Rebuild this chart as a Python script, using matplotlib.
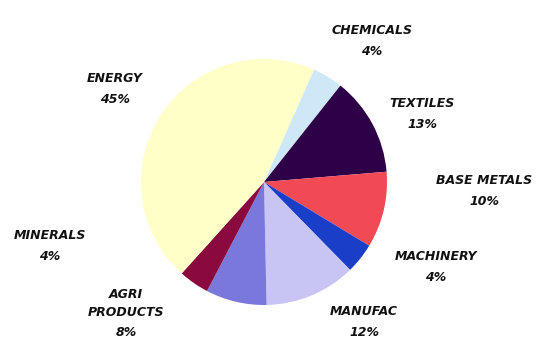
import matplotlib
matplotlib.use("Agg")
import matplotlib.pyplot as plt

categories = ["CHEMICALS", "TEXTILES", "BASE METALS", "MACHINERY",
              "MANUFAC", "AGRI\nPRODUCTS", "MINERALS", "ENERGY"]
values = [4, 13, 10, 4, 12, 8, 4, 45]
colors = ["#cfe8f8", "#2e0048", "#f24a55", "#1a3ec8",
          "#c8c4f4", "#7b78dc", "#8a0a40", "#ffffc8"]
# label anchor positions in pixel space (x, y from top)
label_pos = [(372, 41), (422, 114), (484, 191), (436, 267),
             (364, 322), (126, 313), (50, 246), (115, 89)]

W, H = 544, 343
fig = plt.figure(figsize=(W / 100, H / 100), dpi=100)
ax = fig.add_axes([0, 0, 1, 1])

ax.pie(values, colors=colors, startangle=66, counterclock=False,
       center=(264, H - 182), radius=123, frame=True,
       wedgeprops=dict(linewidth=0))
ax.set_xlim(0, W)
ax.set_ylim(0, H)
ax.set_aspect("equal")
ax.axis("off")

for cat, v, (x, y) in zip(categories, values, label_pos):
    lines = cat.count("\n") + 2
    ax.text(x, H - y, f"{cat}\n{v}%", ha="center", va="center",
            fontsize=9, fontweight="heavy", fontstyle="italic",
            family="DejaVu Sans", linespacing=1.6 if lines > 2 else 1.75,
            color="#111111")

fig.savefig("out.png", dpi=100)
